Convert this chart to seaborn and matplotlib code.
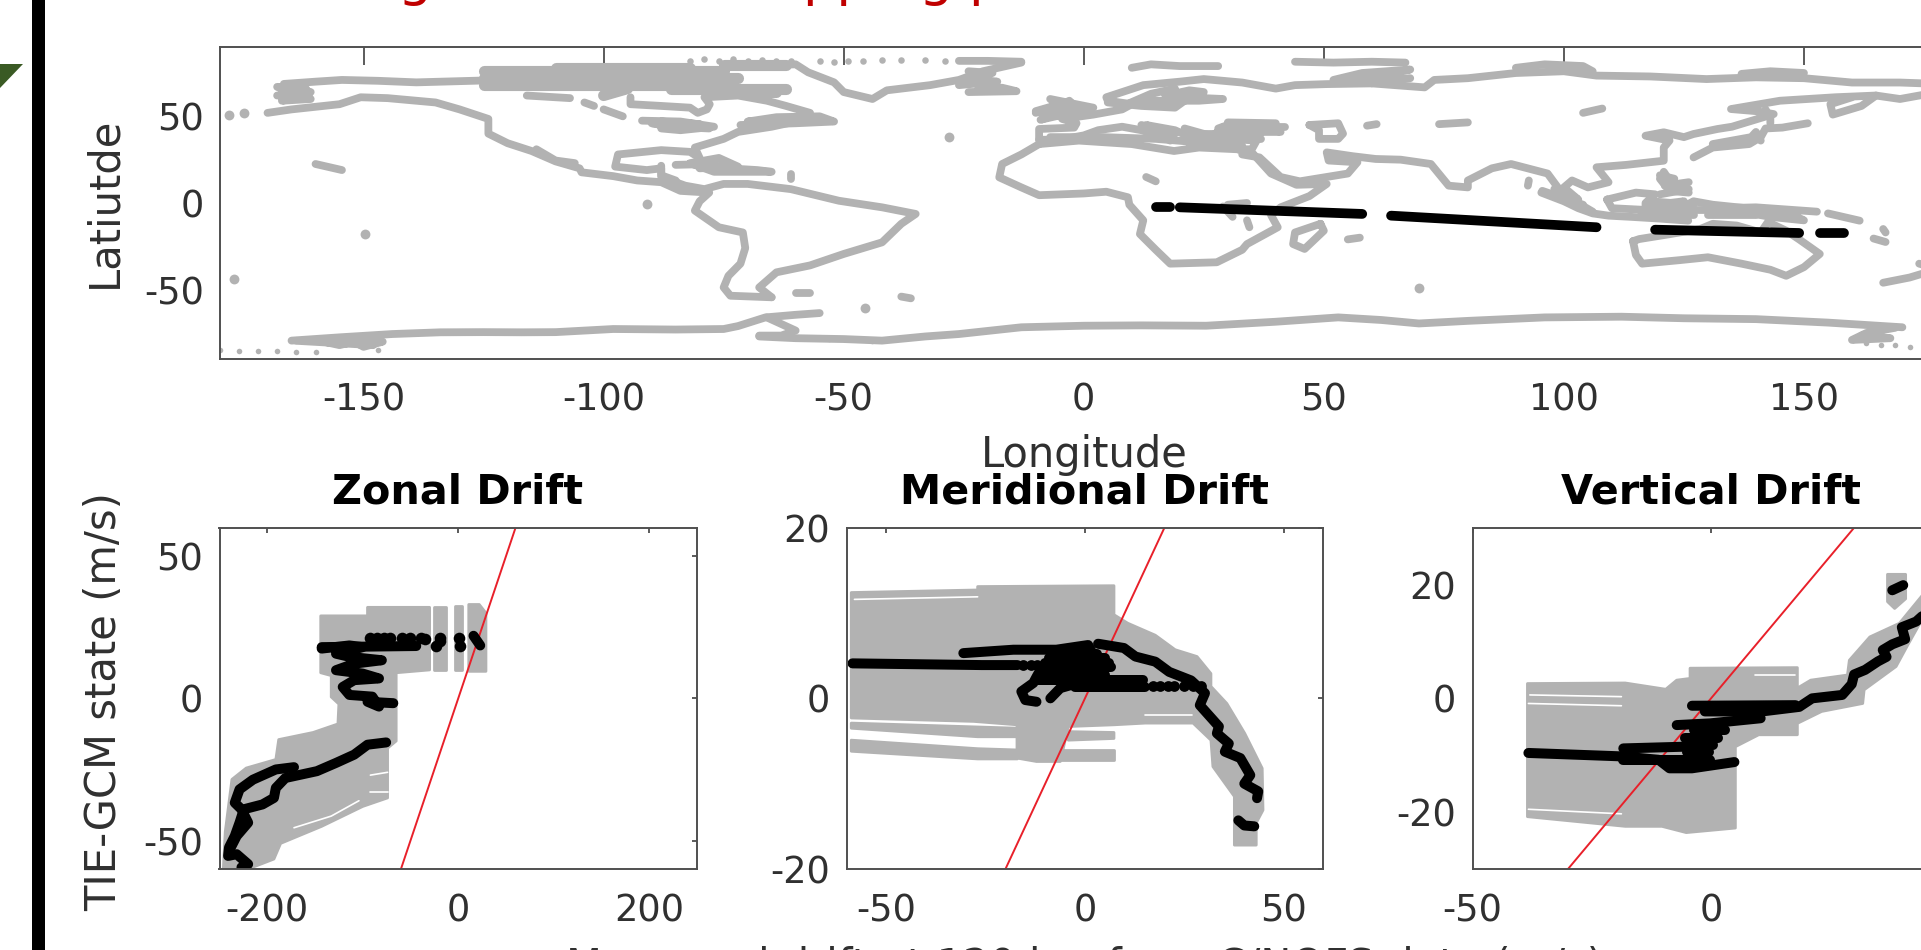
import matplotlib
matplotlib.use("Agg")
import matplotlib.pyplot as plt
from matplotlib.patches import Polygon
import seaborn as sns

sns.set_theme(style="white")
plt.rcParams['font.family'] = ['DejaVu Sans']

GRAY = '#b2b2b2'
TXT = '#303030'

# ---------- map: coastline traces (lon, lat) ----------
coast_americas_w = [(-170,52),(-165,54),(-160,55.5),(-155,57),(-150.6,61),(-145,60.5),(-135,58),(-130,54),(-124,48.5),(-124,40),(-120,34.5),(-115,30),(-110,24),(-105,20),(-104.6,17.7),(-98,15.5),(-93,13),(-88,12),(-84,7),(-78,6),(-80,1),(-81,-4.4),(-76,-14),(-71,-17),(-70.5,-26),(-71.5,-35),(-74,-42),(-75,-48.7),(-73.6,-53.5),(-65,-54.4)]
coast_americas_e = [(-65,-54.4),(-67.6,-48.7),(-64,-40),(-57,-36),(-50,-29.4),(-42,-22.7),(-38,-12),(-35,-6.3),(-42,-2.5),(-51,1.3),(-61,8),(-70,11),(-75,11),(-79,8),(-83,10),(-88,15),(-88,20),(-91,19),(-97.6,21),(-97,28),(-88,30.5),(-82,29.5),(-80,26),(-81,32),(-75,37),(-72,41),(-65,44),(-60,47)]
coast_baja = [(-114,31),(-110,24.5),(-106,23)]
coast_central = [(-88,21.5),(-88,16),(-85,13),(-84,9),(-81,8)]
coast_alaska_n = [(-166.6,68.7),(-160,70),(-154.5,71),(-147,70.5),(-139,69.6),(-126,70.6),(-115,68.5)]
coast_alaska_blob = [(-168,62),(-161,64),(-165,67),(-161,60),(-167,59),(-162,61.5),(-166,65),(-168,67),(-162,66)]
coast_hudson = [(-94.4,61),(-94.4,57),(-88,56),(-82,55),(-80.4,52),(-78.5,54),(-77.9,57),(-79,61),(-72,62),(-66,59),(-62,56),(-57,52)]
coast_lakes = [(-92,47.5),(-84,47),(-77,44),(-84,42),(-88,43),(-88,47),(-80,45.5),(-90,46),(-86,44),(-78,43)]
coast_newfoundland = [(-71.5,45),(-60,46),(-52,47),(-55,50),(-64,49.5),(-70,47),(-62,48),(-56,48.5),(-68,45.5)]
coast_caribbean = [(-85,22),(-78,22.5),(-74,20),(-68,19),(-65,18),(-72,18),(-77,18),(-82,23),(-76,26),(-72,21),(-80,20)]
coast_arctic_rows = [[(-125,68),(-80,68)],[(-122,70),(-78,70)],[(-125,72),(-72,72)],[(-122,74),(-80,74)],[(-125,76),(-75,76)],[(-110,78),(-82,78)],[(-86,66),(-62,66)],[(-78,64),(-64,64)],[(-100,62),(-95,66)],[(-75,79.5),(-62,79.5)]]
coast_greenland = [(-72,79),(-60,80),(-57.4,75.4),(-52,69.6),(-50,64),(-44,60),(-41,65),(-32,68),(-26,71),(-21,76),(-13,81)]
coast_iceland = [(-24,64),(-14,64.5),(-17,66.5),(-22,66)]
coast_green_ne = [(-26,82),(-20,82),(-13,81.5)]
coast_green_cluster = [(-24,76),(-19,75),(-24,72),(-18,70),(-26,68)]

coast_africa = [(-9.3,34),(-13,28),(-17,22.5),(-17.6,14.8),(-13,9),(-9.3,4.5),(0,5.5),(4.7,6.5),(9.2,3.3),(9.5,-1),(12.4,-10),(11.7,-17.9),(15,-27),(18,-35),(27.7,-34.2),(33,-27),(34,-23.7),(40.4,-14),(39,-7),(41,-2.5),(47,4),(50.6,11),(44.3,10.5),(39,17),(35.3,28.3),(32,31),(24,32),(18.8,30),(10,34),(-1,36),(-9.3,34)]
coast_iberia = [(-9.3,36.5),(-9.3,42.7),(-2,43.5),(-1.5,46),(-4.5,48.5),(2,51),(8,54),(10,57),(5,59),(4.7,61),(12.4,68),(20,70),(25,71.5),(33,69.5),(40,66),(44,68),(50.6,68.6),(60,69)]
coast_med = [(-9.3,36.5),(-5,36.5),(0,39),(3,42),(8,44),(12,42),(16,38.5),(18,40),(13,45),(19,42),(23,37),(24,40),(27,37.5),(36,36),(35,31),(32,31)]
coast_med_2 = [(-7,38),(4,38),(15,37),(24,35),(28,41),(41,41),(36,45),(31,46),(28,43),(34,38),(38,42)]
coast_med_rows = [[(21,37),(37,37)],[(21,40),(36,40)],[(22,34),(33,33)],[(14,42),(18,36)],[(12,45),(19,40)],[(29,44),(42,44)],[(30,46.5),(40,46)],[(21,43),(30,36)]]
coast_uk = [(-10,52),(-6,55),(-3,59),(-1,53),(1,51),(-5,50),(-10,53),(-5,57),(-8,54),(-2,56),(-3,52),(-7,60),(2,55),(-9,48),(-4,53)]
coast_baltic = [(5,58),(12,56),(19,55),(21,59),(17,62),(22,65),(25,64),(21,61),(29,60),(24,59),(12,59),(9,57),(14,63),(19,66)]
coast_russia_n = [(60,69),(71,66.7),(73,71),(80,72),(90,75),(100,76),(106.8,73.5),(118,73),(129.7,71.5),(140,72.5),(150,72),(160,69.5),(170,69.5),(180,68.5)]
coast_novaya = [(52,71),(58,75),(68,77),(60,73),(55,71),(62,71),(68,72)]
coast_svalbard = [(10,78),(14,80),(20,79),(28,79)]
coast_franz = [(44,81.5),(52,81),(60,81.5),(67,81)]
coast_severnaya = [(90,78),(96,80),(104,79),(106,76),(98,77)]
coast_siberian = [(137,74.5),(143,76),(150,75)]
coast_okhotsk = [(180,65),(170,60),(165,62),(156.5,61),(145,59),(134.8,54.2),(140,53),(143.7,51.3),(135,44),(132,42.7),(127,39.8),(125,38),(120.8,40.8),(117,38.8),(122,36),(120.8,32),(120.8,24.4),(113,22),(106.8,20.6),(109.3,12),(105,9),(101.7,13),(100,9),(103,2),(99,8),(96.6,17),(89,22.5),(85,20),(80,13),(80,9),(76,10),(72.3,22.5),(66,25),(60.8,25.4),(56,27),(50.6,29.2),(51,24.5),(57,23.5),(55,17),(45,12.5),(41,15),(36.6,26.3),(33,28)]
coast_kamchatka = [(165,62),(162,56),(156,51),(155.5,57),(160,61)]
coast_japan = [(127,26.3),(131,32),(138.6,34),(141,38),(142,43),(145.5,43.5),(150.8,46)]
coast_japan_2 = [(131,34),(135,36),(139,38),(140,41),(141,36)]
coast_sakhalin = [(142,54),(143,49),(143,46)]
coast_indonesia_1 = [(95.3,6),(100,1),(103,-3),(106,-6),(109.3,-7.3),(114,-8),(120,-9),(125.9,-10.2)]
coast_indonesia_2 = [(109,2),(115,6),(119,5),(117,0),(117,-4),(110,-3),(109,2)]
coast_indonesia_3 = [(120.8,18),(122,13),(125,8),(126,6),(122,7),(120,14)]
coast_indonesia_4 = [(119,-1),(125,1),(121,-3),(123,-5),(127,1),(131,-1),(138,-3),(147,-6),(150,-10),(143,-8),(135,-4),(133,-3),(140,-2.5),(152.7,-5)]
coast_indonesia_rows = [[(97,5),(105,-4)],[(95.5,7),(104,-1)],[(98,8),(106,-5)],[(118,1),(127,-1)],[(117,-3),(127,-4)],[(116,-7),(127,-7)],[(120,5),(126,8)],[(121,10),(126,12)],[(120,16),(123,14)],[(127,-4),(145,-4)],[(130,-7),(140,-7)]]
coast_solomon = [(155,-6),(161.6,-10.2)]
coast_australia = [(114.4,-22),(115,-30),(116.3,-35),(124,-33),(130,-31.3),(137,-35),(143,-38.5),(146.3,-42),(150,-37),(153.3,-29.4),(149,-21),(146.3,-16),(142.5,-11),(141,-17),(136,-13),(131,-12),(128.4,-15),(122,-18),(115.7,-20.8),(114.4,-22)]
coast_madagascar = [(49.3,-12),(44,-17),(43.6,-23.7),(46,-26.5),(50,-16),(49.3,-12)]
coast_nz = [(166.5,-46),(172,-43),(178,-38),(174,-35)]
coast_caspian = [(47,45),(53,46),(54,40),(53,37),(49,37),(49,42),(47,45)]
coast_antarctic_w = [(-55,-63.5),(-60,-64.5),(-66.3,-66),(-72,-71),(-75,-72.7),(-85,-73),(-98,-72.7),(-110,-74.5),(-117,-74.6),(-125,-74.5),(-134,-74.6),(-144,-75.6),(-155,-77.5),(-165,-79.4)]
coast_weddell = [(-66,-66),(-60,-73.6),(-63,-76.5),(-67.6,-76.5)]
coast_antarctic_e = [(-67.6,-77),(-60,-78),(-50,-78.5),(-42,-79.4),(-33,-77),(-26,-75.6),(-13,-71.7),(0,-70.8),(12,-70.6),(25.5,-70.8),(40,-68.5),(53,-66),(62,-67.5),(69.8,-69.5),(80,-68),(96,-66),(112,-65.6),(125,-66.5),(140,-67),(155,-69),(170.5,-71.7)]
coast_victoria = [(169,-72),(163,-75),(160,-79),(168,-78),(162,-76.5)]
coast_ross = [(-160,-79),(-155,-82),(-152,-80),(-150,-83),(-146,-80),(-155,-79.5),(-148,-82),(-164,-79.5)]
islands_short = [[(-160,22.5),(-154.5,19)],[(-104,58),(-102,56)],[(-100,54),(-96,50)],[(-116,62),(-107,60.5)],[(-61,16.5),(-61,14)],[(-60,-52),(-57,-52)],[(-38,-54),(-36,-55)],[(59,44.6),(61,45.5)],[(74,45.5),(80,46.5)],[(104,52),(108,54.5)],[(92.7,13),(92.5,10)],[(29,-2),(31,-8)],[(34,-10),(34.5,-14)],[(30,-1),(34,0)],[(166.5,-15),(167,-17)],[(164.5,-20.5),(167,-22.5)],[(55,-21),(57.5,-20)],[(13,15),(15,12.5)]]
dots_islands = [(-91,-0.6),(-149.6,-18),(-177,-44),(-45.6,-60.6),(-28,38.3),(-178,51),(-175,52),(69.8,-49)]
dots_arctic_top = [(-82,82),(-79,83),(-76,82),(-73,83),(-70,82),(-67,82.5),(-64,82),(-61,82),(-55,82),(-52,81.5),(-49,82),(-46,82),(-42,82.5),(-38,82.5),(-33,82.5),(-29,82)]
dots_south = [(-180,-85),(-176,-85.5),(-172,-85.5),(-168,-85.5),(-164,-86),(-160,-86),(-147,-85),(-63,-77),(-53,-78.5),(-44,-79.5),(160,-79),(163,-81),(166,-82),(169,-82),(172,-83)]
track_black_1 = [(15,-2.5),(18,-2.5)]
track_black_2 = [(20,-2.5),(58,-6.3)]
track_black_3 = [(64,-7.3),(106.8,-14)]
track_black_4 = [(119,-15.4),(149,-17.3)]
track_black_5 = [(153.3,-17.3),(158.4,-17.3)]

# ---------- zonal drift panel ----------
zonal_cloud = [(-144,29),(-95,29),(-95,32),(-30,32),(-30,10),(-65,9),(-65,-15),(-74,-17.5),(-74,-35),(-100,-38),(-143,-45),(-186,-51),(-193,-56.5),(-220,-60),(-246,-60),(-244,-47),(-237,-28.5),(-222,-24.5),(-191,-21.5),(-188,-14.5),(-152,-12),(-126,-9),(-125,-2),(-133,0.5),(-133,8),(-144,9)]
zonal_strip_1 = [(-25,10),(-13,10),(-13,32),(-25,32)]
zonal_strip_2 = [(-3,10),(4,10),(4,32.5),(-3,32.5)]
zonal_strip_3 = [(11,9.5),(29,9.5),(29,30),(22,33),(11,33)]
zonal_white = [[(-172,-45.5),(-133,-41.4),(-104,-36)],[(-92,-33),(-74,-33)],[(-92,-27),(-74,-26)]]
zonal_upper = [(-143,17.5),(-114,18.6),(-100,18),(-128,15.7),(-114,14.6),(-80,13.4),(-109,12.2),(-128,9.9),(-100,8.7),(-83,7),(-109,6.4),(-121,4),(-114,1.2),(-90,0.6),(-83,-2.9),(-95,-1.2),(-68,-1.7)]
zonal_row = [(-143,18),(-44,18.4)]
zonal_lower = [(-75.5,-15.5),(-95,-16.3),(-109,-19.8),(-128,-22.7),(-148,-25.6),(-181,-28),(-191,-31.5),(-193,-35),(-205,-37.3),(-224.5,-39),(-229,-43.7),(-234,-48.4),(-240,-52.4),(-241,-55.4),(-232,-54.8),(-220,-58.3),(-227,-59.4)]
zonal_loop = [(-172,-24.2),(-191,-25),(-215,-28.6),(-229,-32),(-234,-36.7),(-227,-39),(-220,-43.7),(-232,-48.4),(-239,-53)]
zonal_tail = [(16,22),(23,18.6)]
zonal_dots = [(-92,21.3),(-85,21.3),(-78,21.3),(-71,21.3),(-59,21.3),(-51,21.3),(-39,21.3),(-35,21),(-19,21.3),(0.5,21.3),(-23,18.4),(2,18.4),(-19,20),(-51,19)]

# ---------- meridional drift panel ----------
merid_cloud = [(-58.8,12.4),(-27,12.7),(-27,13.1),(7.3,13.2),(7.3,9.8),(10.8,8.8),(17.7,7.4),(22.7,5.7),(28.2,4.9),(31.7,2.9),(31.7,1.4),(35.7,-0.6),(40.2,-4.1),(44.6,-8.2),(44.8,-13.1),(43.1,-14.6),(43.1,-17.2),(37.6,-17.2),(37.6,-11.5),(32.2,-8),(31.7,-4.9),(27.2,-2.9),(15.2,-2.9),(7.3,-3.1),(-4.2,-3.3),(-6.2,-7.4),(-12.2,-7.4),(-17.1,-7),(-17.1,-3.1),(-28,-2.7),(-58.8,-2.3)]
merid_strip_1 = [(-58.8,-2.9),(-17,-3.5),(-17,-4.5),(-27,-4.5),(-58.8,-3.5)]
merid_strip_2 = [(-58.8,-4.9),(-27,-5.9),(-17,-6.05),(-17,-7.1),(-27,-7.1),(-58.8,-6.2)]
merid_strip_3 = [(-4.2,-3.9),(7.3,-4),(7.3,-4.7),(-4.2,-4.9)]
merid_strip_4 = [(-6.2,-6.05),(7.3,-6.05),(7.3,-7.2),(-6.2,-7.2)]
merid_white = [[(-58,11.6),(-27,11.9)],[(15.2,-2),(27,-2)]]
merid_long = [(-58.5,4.1),(-26,3.9),(-17,3.9)]
merid_upper = [(-30.6,5.3),(-18,5.7),(-7.2,5.7),(0.8,6.25),(2.3,4.9)]
merid_right = [(3.3,6.4),(9.8,5.9),(12.7,4.9),(17.7,4.3),(21.2,3.1),(26.7,2.1),(30.2,0.6),(28.9,-0.8),(33.7,-3.3),(33.2,-4.1),(36.2,-5.3),(35.2,-6.25),(39.1,-7),(41.6,-9),(40.1,-10),(43.6,-10.9),(43.3,-11.7)]
merid_bottom = [(38.6,-14.3),(40.1,-14.9),(42.6,-15)]
merid_blob = [[(-8,5.2),(3,5.2)],[(-9,4.7),(5,4.7)],[(-10,4.2),(6,4.2)],[(-11,3.7),(6.5,3.7)],[(-11,3.2),(3,3.2)],[(-11,2.7),(5,2.7)],[(-12,2.2),(14.5,2.2)],[(-4,1.7),(12,1.7)],[(-2.5,1.3),(15,1.3)]]
merid_loop_1 = [(-11,3.5),(-12.2,2.5),(-13,1.8),(-16,0.8),(-15,-0.2),(-12.2,-0.4)]
merid_loop_2 = [(-8.7,0),(-6.2,1.2),(-3.2,1.6)]
merid_dots = [(-15.5,3.9),(-13.5,3.9),(-12,3.9),(17,1.45),(19,1.45),(20.8,1.45),(22.3,1.45),(24.8,1.45),(27.3,1.45),(29.3,1.45)]

# ---------- vertical drift panel ----------
vert_cloud = [(-38.5,2.6),(-18,2.7),(-9.5,1.6),(-7.2,3.2),(-4.4,3.5),(-4.4,5.3),(18.1,5.4),(18.1,1.8),(20.9,3.2),(28.6,4.1),(29,6.7),(33.3,10.8),(39.5,13.2),(44,17.8),(48,22),(50,22),(50,17),(44,13.5),(41,9),(38.8,5.6),(32.1,1.5),(31.8,-0.9),(23.2,-2.3),(18.1,-4.4),(18.1,-6.4),(10,-6.4),(5.1,-8.5),(5.1,-22.8),(-5.2,-23.6),(-10.3,-22.5),(-18,-22.5),(-38.5,-20.8)]
vert_blob_cloud = [(37,21.8),(40.8,21.8),(40.8,17.5),(38.5,15.8),(37,17)]
vert_white = [[(-38,0.6),(-18.8,0.3)],[(-38.3,-0.9),(-18.8,-1.3)],[(-38.3,-19.5),(-18.8,-20.3)],[(9.2,4.1),(17.7,4.1)]]
vert_main = [(-38.3,-9.6),(-18.8,-10.2),(-11,-10.8),(-8.7,-12.3),(-4,-12.3),(4.9,-11.2)]
vert_row_1 = [(-18.4,-8.8),(-5.6,-8.5)]
vert_row_2 = [(-18.4,-10.8),(-0.2,-10.8)]
vert_row_3 = [(-7.2,-4.7),(-0.2,-4.4),(10.4,-3.5)]
vert_row_4 = [(-4,-1.3),(17.7,-1.2)]
vert_curve = [(-1.3,-2.3),(10.7,-2.3),(18.5,-1.5),(21.2,0),(27.5,0.6),(29.5,2.5),(30,4.2),(32.3,5),(35,6.5),(36.8,7.3),(36,8.5),(38,9.5),(40.7,10.4),(40,12.5),(43,13.5),(45,15),(48,18)]
vert_knot_rows = [[(-3.5,-5.6),(3,-5.6)],[(-5.5,-7),(1.5,-7)],[(-5,-8.2),(0.5,-8.2)],[(-5,-9.4),(-0.5,-9.4)],[(-4.5,-11.5),(0,-11.5)]]
vert_knot_2 = [(38,19),(40.3,19.9)]

# ---------- text ----------
panel_titles = ['Zonal Drift', 'Meridional Drift', 'Vertical Drift']
x_label = 'Measured drift at 120 km from C/NOFS data (m/s)'
y_label = 'TIE-GCM state (m/s)'
lat_label = 'Latiutde'
lon_label = 'Longitude'
lon_ticks = [-150, -100, -50, 0, 50, 100, 150]
lat_ticks = [-50, 0, 50]
headline_fragments = [(398, 'g'), (802, 'pp'), (919, 'g'), (968, 'p')]


def axes_box(fig, l, t, r, b):
    W, H = fig.get_size_inches() * fig.dpi
    return fig.add_axes([l / W, 1 - b / H, (r - l) / W, (b - t) / H])


def trace(ax, pts, color=GRAY, lw=5.6):
    sns.lineplot(x=[p[0] for p in pts], y=[p[1] for p in pts], sort=False, estimator=None,
                 errorbar=None, color=color, linewidth=lw, solid_capstyle='round',
                 solid_joinstyle='round', ax=ax, legend=False)


def dots(ax, pts, color=GRAY, s=40):
    sns.scatterplot(x=[p[0] for p in pts], y=[p[1] for p in pts], color=color, s=s,
                    linewidth=0, ax=ax, legend=False)


def cloud(ax, pts):
    ax.add_patch(Polygon(pts, closed=True, facecolor=GRAY, edgecolor=GRAY, linewidth=2, joinstyle='round'))


def style(ax, xlim, ylim, xt, yt, tick_len, xpad, ypad):
    ax.set_xlim(*xlim)
    ax.set_ylim(*ylim)
    ax.set_xticks(xt)
    ax.set_yticks(yt)
    ax.tick_params(direction='in', length=tick_len * 0.72, width=1.2, color='#404040',
                   top=True, right=True, labelsize=26.5, labelcolor=TXT)
    ax.tick_params(axis='x', pad=xpad)
    ax.tick_params(axis='y', pad=ypad)
    for sp in ax.spines.values():
        sp.set_visible(True)
        sp.set_color('#505050')
        sp.set_linewidth(1.4)
    ax.set_xlabel('')
    ax.set_ylabel('')
    ax.set_facecolor('white')
    ax.set_xticklabels([str(v) for v in xt])
    ax.set_yticklabels([str(v) for v in yt])


fig = plt.figure(figsize=(19.21, 9.5), dpi=100, facecolor='white')

# map
ax = axes_box(fig, 219.5, 47, 1948, 359)
for seg in [coast_americas_w, coast_americas_e, coast_baja, coast_central, coast_alaska_n, coast_alaska_blob,
            coast_hudson, coast_lakes, coast_newfoundland, coast_caribbean, coast_greenland, coast_iceland,
            coast_green_ne, coast_green_cluster, coast_africa, coast_iberia, coast_med, coast_med_2, coast_uk,
            coast_baltic, coast_russia_n, coast_novaya, coast_svalbard, coast_franz, coast_severnaya, coast_siberian,
            coast_okhotsk, coast_kamchatka, coast_japan, coast_japan_2, coast_sakhalin,
            coast_indonesia_1, coast_indonesia_2, coast_indonesia_3, coast_indonesia_4, coast_solomon,
            coast_australia, coast_madagascar, coast_nz, coast_caspian, coast_antarctic_w, coast_weddell,
            coast_antarctic_e, coast_victoria, coast_ross] + coast_med_rows + coast_indonesia_rows + islands_short:
    trace(ax, seg)
for seg in coast_arctic_rows:
    trace(ax, seg, lw=8)
dots(ax, dots_islands, s=50)
dots(ax, dots_arctic_top, s=22)
dots(ax, dots_south, s=16)
for seg in [track_black_1, track_black_2, track_black_3, track_black_4, track_black_5]:
    trace(ax, seg, color='black', lw=7)
style(ax, (-180, 180), (-90, 90), lon_ticks, lat_ticks, 18, 16.5, 11)
fig.text(104 / 1921, 1 - 202 / 950, lat_label, rotation=90, ha='center', va='center', fontsize=30, color=TXT)
fig.text(1084 / 1921, 1 - 455 / 950, lon_label, ha='center', va='center', fontsize=30, color=TXT)

# zonal
ax = axes_box(fig, 219.5, 527.7, 697, 869)
for poly in [zonal_cloud, zonal_strip_1, zonal_strip_2, zonal_strip_3]:
    cloud(ax, poly)
for seg in zonal_white:
    trace(ax, seg, color='white', lw=1.2)
sns.lineplot(x=[-60, 60], y=[-60, 60], color='#e8202a', linewidth=1.4, ax=ax, errorbar=None)
for seg in [zonal_upper, zonal_row, zonal_lower, zonal_loop, zonal_tail]:
    trace(ax, seg, color='black', lw=7.2)
dots(ax, zonal_dots, color='black', s=70)
style(ax, (-250, 250), (-60, 60), [-200, 0, 200], [-50, 0, 50], 5, 17, 12)

# meridional
ax = axes_box(fig, 846.5, 527.7, 1323.4, 869)
for poly in [merid_cloud, merid_strip_1, merid_strip_2, merid_strip_3, merid_strip_4]:
    cloud(ax, poly)
for seg in merid_white:
    trace(ax, seg, color='white', lw=1.2)
sns.lineplot(x=[-20, 20], y=[-20, 20], color='#e8202a', linewidth=1.4, ax=ax, errorbar=None)
for seg in [merid_long, merid_upper, merid_right, merid_bottom, merid_loop_1, merid_loop_2] + merid_blob:
    trace(ax, seg, color='black', lw=7.2)
dots(ax, merid_dots, color='black', s=60)
style(ax, (-60, 60), (-20, 20), [-50, 0, 50], [-20, 0, 20], 5, 17, 12)

# vertical
ax = axes_box(fig, 1472.6, 527.7, 1949.5, 869)
for poly in [vert_cloud, vert_blob_cloud]:
    cloud(ax, poly)
for seg in vert_white:
    trace(ax, seg, color='white', lw=1.2)
sns.lineplot(x=[-30, 30], y=[-30, 30], color='#e8202a', linewidth=1.4, ax=ax, errorbar=None)
for seg in [vert_main, vert_row_1, vert_row_2, vert_row_3, vert_row_4, vert_curve, vert_knot_2] + vert_knot_rows:
    trace(ax, seg, color='black', lw=7.2)
style(ax, (-50, 50), (-30, 30), [-50, 0, 50], [-20, 0, 20], 5, 17, 12)

for (cx, title) in zip([458, 1084, 1711], panel_titles):
    fig.text(cx / 1921, 1 - 492.5 / 950, title, ha='center', va='center', fontsize=29.8, fontweight='bold', color='black')

fig.text(104 / 1921, 1 - 702 / 950, y_label, rotation=90, ha='center', va='center', fontsize=30, color=TXT)
fig.text(1084 / 1921, 1 - 946 / 950, x_label, ha='center', va='top', fontsize=30, color=TXT)

# slide furniture around the picture
fig.add_artist(plt.Rectangle((32 / 1921, 0), 13 / 1921, 1, transform=fig.transFigure, facecolor='black', edgecolor='none'))
fig.add_artist(Polygon([(0, 1 - 64 / 950), (23 / 1921, 1 - 64 / 950), (0, 1 - 88 / 950)], closed=True,
                       transform=fig.transFigure, facecolor='#3a5a24', edgecolor='none'))
# cropped red headline: only the descenders remain in the frame
for px, frag in headline_fragments:
    fig.text(px / 1921, 1 + 4.5 / 950, frag, ha='left', va='baseline', fontsize=39, color='#c00000')

fig.savefig('out.png', dpi=100)
